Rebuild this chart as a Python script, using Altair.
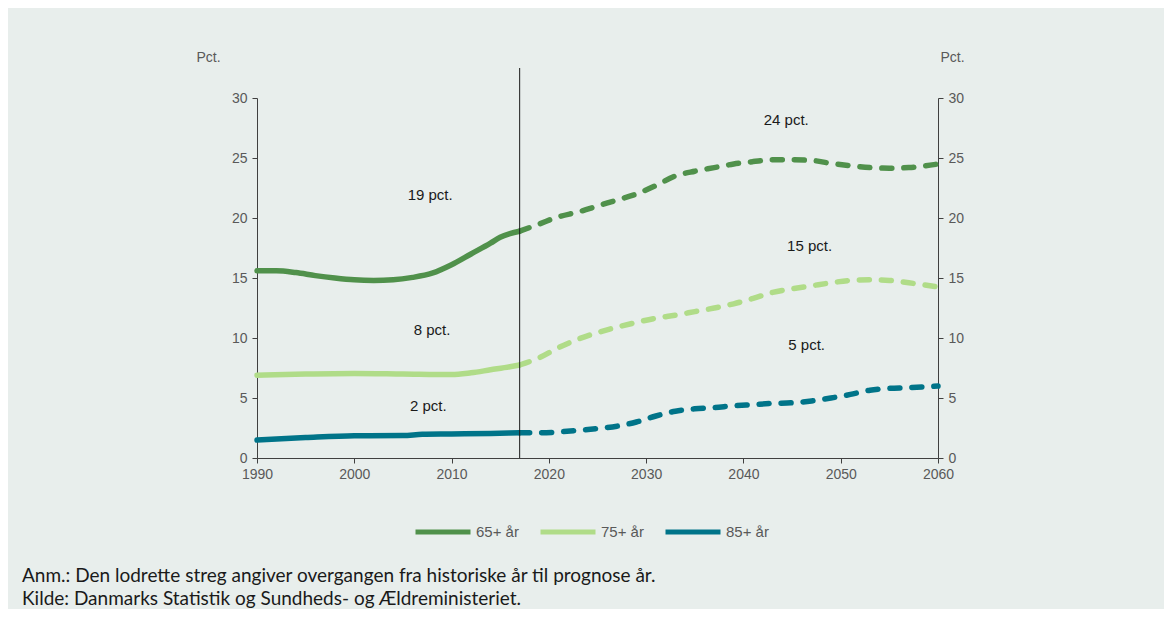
import altair as alt
import pandas as pd

series = ["65+ år", "75+ år", "85+ år"]
colors = ["#50914B", "#B0DC88", "#007489"]

hist_years_65 = [1990, 1992, 1994, 1996, 1998, 2000, 2002, 2004, 2006, 2008, 2010, 2012, 2014, 2015, 2016, 2017]
hist_vals_65 = [15.6, 15.6, 15.45, 15.2, 15.0, 14.85, 14.8, 14.85, 15.05, 15.4, 16.1, 17.0, 17.9, 18.4, 18.7, 18.9]
prog_years_65 = [2017, 2019, 2021, 2023, 2025, 2027, 2029, 2031, 2033, 2035, 2037, 2039, 2041, 2043, 2045, 2047, 2049, 2051, 2053, 2055, 2057, 2060]
prog_vals_65 = [18.9, 19.5, 20.1, 20.5, 21.0, 21.5, 22.0, 22.7, 23.5, 23.9, 24.2, 24.5, 24.7, 24.85, 24.85, 24.8, 24.55, 24.35, 24.2, 24.15, 24.2, 24.5]

hist_years_75 = [1990, 1995, 2000, 2005, 2010, 2012, 2014, 2016, 2017]
hist_vals_75 = [6.9, 7.0, 7.05, 7.0, 6.95, 7.1, 7.35, 7.6, 7.75]
prog_years_75 = [2017, 2019, 2021, 2023, 2025, 2027, 2029, 2031, 2033, 2035, 2037, 2039, 2041, 2043, 2045, 2047, 2049, 2051, 2053, 2055, 2057, 2060]
prog_vals_75 = [7.75, 8.35, 9.2, 9.9, 10.45, 10.9, 11.3, 11.65, 11.9, 12.2, 12.5, 12.85, 13.3, 13.8, 14.1, 14.35, 14.6, 14.8, 14.85, 14.8, 14.6, 14.25]

hist_years_85 = [1990, 1995, 2000, 2005, 2007, 2010, 2014, 2017]
hist_vals_85 = [1.5, 1.7, 1.85, 1.87, 1.97, 2.0, 2.05, 2.1]
prog_years_85 = [2017, 2019, 2021, 2023, 2025, 2027, 2029, 2031, 2033, 2035, 2037, 2039, 2041, 2043, 2045, 2047, 2049, 2051, 2053, 2055, 2057, 2060]
prog_vals_85 = [2.1, 2.1, 2.17, 2.3, 2.45, 2.65, 3.0, 3.5, 3.9, 4.1, 4.2, 4.35, 4.45, 4.55, 4.6, 4.75, 5.0, 5.3, 5.65, 5.8, 5.87, 6.0]

label_texts = ["19 pct.", "24 pct.", "8 pct.", "15 pct.", "2 pct.", "5 pct."]
label_years = [2007.8, 2044.4, 2008, 2046.8, 2007.6, 2046.5]
label_vals = [21.9, 28.2, 10.7, 17.7, 4.3, 9.4]

x_ticks = [1990, 2000, 2010, 2020, 2030, 2040, 2050, 2060]
y_ticks = [0, 5, 10, 15, 20, 25, 30]
split_year = 2017

notes = [
    "Anm.: Den lodrette streg angiver overgangen fra historiske år til prognose år.",
    "Kilde: Danmarks Statistik og Sundheds- og Ældreministeriet.",
]

def frame(years, vals, name):
    return pd.DataFrame({"year": years, "value": vals, "series": name})

hist = pd.concat([
    frame(hist_years_65, hist_vals_65, series[0]),
    frame(hist_years_75, hist_vals_75, series[1]),
    frame(hist_years_85, hist_vals_85, series[2]),
])
prog = pd.concat([
    frame(prog_years_65, prog_vals_65, series[0]),
    frame(prog_years_75, prog_vals_75, series[1]),
    frame(prog_years_85, prog_vals_85, series[2]),
])
labels = pd.DataFrame({"year": label_years, "value": label_vals, "text": label_texts})

FONT = "Liberation Sans"
GREY = "#595959"

xs = alt.Scale(domain=[1990, 2060], nice=False, zero=False)
ys = alt.Scale(domain=[0, 30], nice=False)

x_axis = alt.Axis(values=x_ticks, format="d", title=None, grid=False, tickSize=5,
                  labelFont=FONT, labelFontSize=14, labelColor=GREY, labelPadding=4,
                  labelFlush=False, domainColor="#404040", tickColor="#404040")

def y_axis(orient, tx):
    return alt.Axis(values=y_ticks, orient=orient, grid=False, tickSize=5,
                    labelFont=FONT, labelFontSize=14, labelColor=GREY, labelPadding=5,
                    labelFlush=False, domainColor="#404040", tickColor="#404040",
                    title="Pct.", titleAngle=0, titleFont=FONT, titleFontSize=14,
                    titleFontWeight="normal", titleColor=GREY, titleAlign="center",
                    titleBaseline="middle", titleX=tx, titleY=-41)

color = alt.Color("series:N", scale=alt.Scale(domain=series, range=colors),
                  legend=alt.Legend(title=None, orient="none", direction="horizontal",
                                    legendX=156, legendY=404, symbolType="stroke",
                                    symbolSize=3025, symbolStrokeWidth=5,
                                    symbolDash=[100, 0], labelFont=FONT,
                                    labelFontSize=15, labelColor=GREY, labelOffset=3,
                                    columnPadding=11))

solid = alt.Chart(hist).mark_line(strokeWidth=5.5, interpolate="monotone", strokeCap="round").encode(
    x=alt.X("year:Q", scale=xs, axis=x_axis),
    y=alt.Y("value:Q", scale=ys, axis=y_axis("left", -49)),
    color=color,
    detail="series:N",
)

dashed = alt.Chart(prog).mark_line(strokeWidth=5.5, interpolate="monotone", strokeCap="round",
                                   strokeDash=[10, 12]).encode(
    x=alt.X("year:Q", scale=xs),
    y=alt.Y("value:Q", scale=ys, axis=None),
    color=alt.Color("series:N", scale=alt.Scale(domain=series, range=colors)),
    detail="series:N",
)

right = alt.Chart(prog).mark_line(opacity=0).encode(
    x=alt.X("year:Q", scale=xs),
    y=alt.Y("value:Q", scale=ys, axis=y_axis("right", 14)),
)

vline = alt.Chart(pd.DataFrame({"year": [split_year]})).mark_rule(color="#1a1a1a", strokeWidth=1).encode(
    x=alt.X("year:Q", scale=xs),
    y=alt.value(-30),
    y2=alt.value(360),
)

texts = alt.Chart(labels).mark_text(font=FONT, fontSize=15, color="#1a1a1a").encode(
    x=alt.X("year:Q", scale=xs),
    y=alt.Y("value:Q", scale=ys, axis=None),
    text="text:N",
)

foot = alt.Chart(pd.DataFrame({"t": notes, "yy": [484, 507]})).mark_text(
    font="Lato", fontSize=19, color="#1a1a1a", align="left", baseline="alphabetic"
).encode(
    x=alt.value(-235),
    y=alt.Y("yy:Q", scale=None, axis=None),
    text="t:N",
)

chart = alt.layer(solid, dashed, vline, texts, foot, right).resolve_axis(y="independent").properties(
    width=681, height=360,
    autosize=alt.AutoSizeParams(type="none"),
    padding={"left": 249, "top": 90, "right": 226, "bottom": 151},
    background="#E8EEEC",
).configure_view(stroke=None)

chart.save("out.html", embed_options={"renderer": "svg", "actions": False})
